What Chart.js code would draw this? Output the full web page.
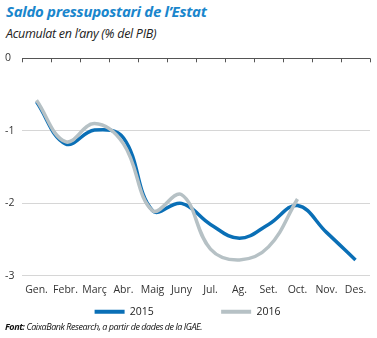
<!DOCTYPE html>
<html>
<head>
<meta charset="utf-8">
<script src="https://cdn.jsdelivr.net/npm/chart.js@4"></script>
<style>
    body { margin: 0; width: 377px; height: 338px; background: #fff; position: relative; overflow: hidden; font-family: "Open Sans", sans-serif; }
    .title { position: absolute; left: 6px; top: 1px; font-size: 15px; font-weight: bold; font-style: italic; color: #1a86cc; letter-spacing: -0.3px; white-space: nowrap; }
    .subtitle { position: absolute; left: 6px; top: 25px; font-size: 12.5px; font-style: italic; color: #222; letter-spacing: -0.3px; white-space: nowrap; }
    .source { position: absolute; left: 5px; top: 320px; font-size: 9px; font-style: italic; color: #111; letter-spacing: -0.45px; white-space: nowrap; }
    .source b { font-weight: bold; }
    #wrap { position: absolute; left: 0; top: 44px; width: 377px; height: 283px; }
</style>
</head>
<body>
<div class="title">Saldo pressupostari de l’Estat</div>
<div class="subtitle">Acumulat en l’any (% del PIB)</div>
<div id="wrap"><canvas id="chart"></canvas></div>
<div class="source"><b>Font:</b> CaixaBank Research, a partir de dades de la IGAE.</div>
<script>
const months = ['Gen.', 'Febr.', 'Març', 'Abr.', 'Maig', 'Juny', 'Jul.', 'Ag.', 'Set.', 'Oct.', 'Nov.', 'Des.'];
const saldo2015 = [-0.6, -1.18, -0.99, -1.1, -2.1, -2.0, -2.29, -2.48, -2.29, -2.03, -2.4, -2.78];
const saldo2016 = [-0.58, -1.15, -0.9, -1.18, -2.1, -1.88, -2.63, -2.78, -2.6, -1.94, null, null];
const yTicks = [0, -1, -2, -3];

// small tick marks hanging from the zero line
const zeroTicks = {
    id: 'zeroTicks',
    afterDraw(chart) {
        const x = chart.scales.x, y = chart.scales.y, ctx = chart.ctx;
        const y0 = y.getPixelForValue(0);
        const step = x.width / months.length;
        ctx.save();
        ctx.strokeStyle = '#555';
        ctx.lineWidth = 1;
        ctx.beginPath();
        for (let i = 0; i <= months.length; i++) {
            const px = Math.round(x.left + i * step) + 0.5;
            ctx.moveTo(px, y0);
            ctx.lineTo(px, y0 + 4);
        }
        ctx.stroke();
        ctx.restore();
    }
};

new Chart(document.getElementById('chart'), {
    type: 'line',
    data: {
        labels: months,
        datasets: [
            { label: '2015', data: saldo2015, borderColor: '#0a6fb6', backgroundColor: '#0a6fb6', borderWidth: 3.5, tension: 0.4, pointRadius: 0, order: 2 },
            { label: '2016', data: saldo2016, borderColor: '#b6c1c5', backgroundColor: '#b6c1c5', borderWidth: 3.5, tension: 0.4, pointRadius: 0, order: 1 }
        ]
    },
    options: {
        responsive: true,
        maintainAspectRatio: false,
        animation: false,
        layout: { padding: { top: 3, right: 7, left: 5, bottom: 0 } },
        plugins: {
            tooltip: { enabled: false },
            legend: {
                position: 'bottom',
                labels: {
                    boxWidth: 30,
                    boxHeight: 4,
                    padding: 10,
                    color: '#222',
                    font: { family: 'Open Sans', size: 10.5 },
                    sort: (a, b) => a.datasetIndex - b.datasetIndex,
                    // widen the gap after the 2015 entry, flat line swatches
                    generateLabels: chart => Chart.defaults.plugins.legend.labels.generateLabels(chart).map(l => {
                        if (l.datasetIndex === 0) l.text = l.text + '\u00a0'.repeat(21);
                        l.lineWidth = 0;
                        return l;
                    })
                }
            }
        },
        scales: {
            x: {
                offset: true,
                grid: { display: false },
                border: { display: false },
                ticks: { color: '#333', font: { family: 'Open Sans', size: 10.5 }, padding: 0, maxRotation: 0 }
            },
            y: {
                min: -3,
                max: 0,
                afterBuildTicks: axis => { axis.ticks = yTicks.map(v => ({ value: v })); },
                afterFit: axis => { axis.width = 17; },
                grid: {
                    color: ctx => ctx.tick && ctx.tick.value === 0 ? '#555' : '#d6d6d6',
                    drawTicks: false
                },
                border: { display: false },
                ticks: { color: '#333', font: { family: 'Open Sans', size: 10.5 }, padding: 8, crossAlign: 'far' }
            }
        }
    },
    plugins: [zeroTicks]
});
</script>
</body>
</html>
